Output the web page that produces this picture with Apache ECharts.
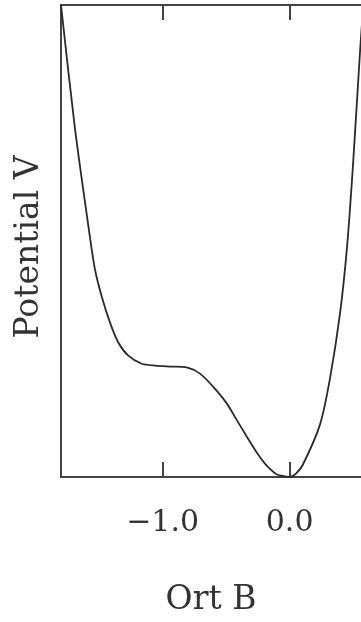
<!DOCTYPE html>
<html>
<head>
<meta charset="utf-8">
<script src="https://cdn.jsdelivr.net/npm/echarts@6/dist/echarts.min.js"></script>
<style>html,body{margin:0;padding:0;background:#fff}#c{width:361px;height:622px}</style>
</head>
<body>
<div id="c"></div>
<script>
// Position along coordinate B and potential V (arbitrary units)
const ortB = [-1.80, -1.69, -1.572, -1.532, -1.480, -1.414, -1.349, -1.270, -1.165, -1.060, -0.942, -0.810, -0.706, -0.601, -0.495, -0.417, -0.338, -0.259, -0.180, -0.102, -0.03, 0.0, 0.05, 0.106, 0.239, 0.318, 0.397, 0.452, 0.499, 0.554, 0.58];
const potentialV = [1.00, 0.738, 0.508, 0.439, 0.383, 0.327, 0.285, 0.257, 0.240, 0.236, 0.234, 0.232, 0.219, 0.191, 0.156, 0.121, 0.086, 0.052, 0.024, 0.006, 0.001, 0.0, 0.007, 0.027, 0.111, 0.209, 0.347, 0.487, 0.661, 0.900, 1.0];
const tickValues = [-1.0, 0.0];

const fmt = v => (v < 0 ? '\u2212' : '') + Math.abs(v).toFixed(1);
const axisColor = '#444';
const font = 'DejaVu Serif';

const chart = echarts.init(document.getElementById('c'), null, {renderer: 'canvas'});
chart.setOption({
  animation: false,
  backgroundColor: '#fff',
  grid: {left: 61, top: 5, width: 300, height: 478, containLabel: false},
  xAxis: [{
    type: 'value', position: 'bottom', min: -1.8, max: 0.562,
    name: 'Ort B', nameLocation: 'middle', nameGap: 107,
    nameTextStyle: {fontFamily: font, fontSize: 33, color: '#333'},
    axisLine: {show: true, onZero: false, lineStyle: {color: axisColor, width: 2}},
    axisTick: {show: true, inside: true, length: 15, customValues: tickValues, lineStyle: {color: axisColor, width: 2}},
    axisLabel: {show: true, customValues: tickValues, formatter: fmt, margin: 31, fontFamily: font, fontSize: 30, color: '#333'},
    splitLine: {show: false}
  }, {
    type: 'value', position: 'top', min: -1.8, max: 0.562,
    axisLine: {show: true, onZero: false, lineStyle: {color: axisColor, width: 2}},
    axisTick: {show: true, inside: true, length: 15, customValues: tickValues, lineStyle: {color: axisColor, width: 2}},
    axisLabel: {show: false},
    splitLine: {show: false}
  }],
  yAxis: [{
    type: 'value', min: 0, max: 1, position: 'left',
    name: 'Potential V', nameLocation: 'middle', nameGap: 15,
    nameTextStyle: {fontFamily: font, fontSize: 33, color: '#333', padding: [0, 12, 0, 0]},
    axisLine: {show: true, onZero: false, lineStyle: {color: axisColor, width: 2}},
    axisTick: {show: false},
    axisLabel: {show: false},
    splitLine: {show: false}
  }],
  series: [{
    type: 'line',
    data: ortB.map((x, i) => [x, potentialV[i]]),
    smooth: 0.25,
    symbol: 'none',
    clip: true,
    lineStyle: {color: '#2a2a2a', width: 1.8}
  }]
});
</script>
</body>
</html>
